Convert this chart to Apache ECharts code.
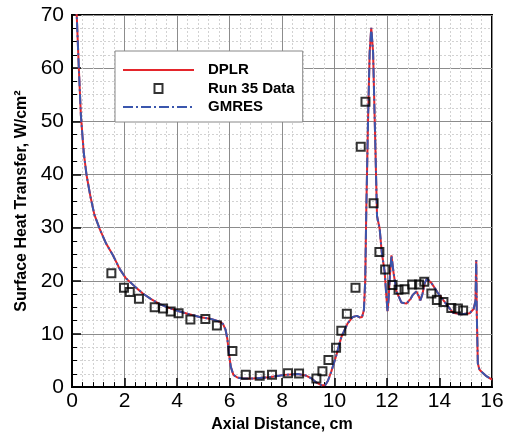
<!DOCTYPE html>
<html>
<head>
<meta charset="utf-8">
<script src="https://cdn.jsdelivr.net/npm/echarts@6/dist/echarts.min.js"></script>
<style>html,body{margin:0;padding:0;background:#fff;}#c{width:513px;height:438px;}</style>
</head>
<body>
<div id="c"></div>
<script>
// Computed solution (DPLR / GMRES overlap)
var curveX = [0.12,0.18,0.26,0.34,0.45,0.55,0.7,0.85,1.05,1.3,1.56,1.82,2.05,2.4,2.7,3.0,3.34,3.7,4.04,4.4,4.86,5.3,5.63,5.75,5.85,5.92,5.98,6.05,6.15,6.3,6.5,6.9,7.5,8.1,8.6,8.9,9.1,9.3,9.5,9.65,9.75,9.88,10.07,10.26,10.5,10.7,10.85,10.96,11.05,11.12,11.17,11.21,11.28,11.34,11.40,11.47,11.53,11.62,11.72,11.8,11.91,11.97,12.02,12.06,12.11,12.17,12.25,12.36,12.55,12.74,12.9,12.99,13.12,13.2,13.27,13.35,13.44,13.52,13.69,13.94,14.26,14.51,14.83,15.15,15.3,15.37,15.40,15.42,15.46,15.52,15.6,15.8,16.0];
var dplrY = [72,70,60,51,44,40,35.9,32.5,29.8,27,24.8,22.2,20.5,18.9,17.6,16.6,15.6,14.9,14.3,13.8,13.2,12.8,12.3,11.9,10.8,9,6.3,3.8,2.3,1.8,1.6,1.6,1.85,2.3,2.45,2.2,1.7,0.9,0.35,0.4,1.2,2.95,6.0,9.4,12.0,13.2,13.4,13.1,13.2,14.5,20,33,50.7,63,67.6,63,50.7,32.2,29.8,25.4,21.7,17.5,14.3,16.5,21,24.8,21.5,18.0,15.9,15.7,16.6,17.4,18.0,17.2,16.3,17.5,19.6,20.4,19.6,17.7,15.6,14.0,13.7,13.9,14.7,16.2,23.9,14,4.5,3.3,2.9,2.0,1.4];
var gmresY = [72,70,60,51,44,40,35.9,32.5,29.8,27,24.8,22.2,20.5,18.9,17.6,16.6,15.6,14.9,14.3,13.8,13.2,12.8,12.3,11.9,10.8,9,6.3,3.8,2.3,1.8,1.6,1.6,1.85,2.3,2.45,2.2,1.7,0.9,0.35,0.4,1.2,2.95,6.0,9.4,12.0,13.2,13.4,13.1,13.2,14.5,20,33,50.7,63,67.6,63,50.7,32.2,29.8,25.4,21.7,17.5,14.3,16.5,21,24.8,21.5,18.0,15.9,15.7,16.6,17.4,18.0,17.2,16.3,17.5,19.6,20.4,19.6,17.7,15.6,14.0,13.7,13.9,14.7,16.2,23.9,14,4.5,3.3,2.9,2.0,1.4];
// Run 35 measured data
var runX = [1.50,1.98,2.20,2.55,3.15,3.47,3.76,4.06,4.51,5.08,5.52,6.11,6.62,7.15,7.62,8.23,8.65,9.31,9.54,9.77,10.06,10.26,10.47,10.8,11.0,11.18,11.49,11.71,11.93,12.21,12.44,12.67,12.96,13.22,13.42,13.69,13.9,14.15,14.45,14.7,14.9];
var runY = [21.4,18.7,17.9,16.6,15.0,14.8,14.2,13.9,12.7,12.8,11.6,6.8,2.3,2.15,2.3,2.6,2.55,1.6,3.0,5.1,7.4,10.6,13.8,18.7,45.2,53.7,34.6,25.4,22.1,19.2,18.3,18.4,19.3,19.3,19.8,17.6,16.4,16.0,14.9,14.8,14.4];
var seriesNames = ['DPLR', 'Run 35 Data', 'GMRES'];
var xTicks = [0, 16, 2];
var yTicks = [0, 70, 10];

function zip(a, b) { return a.map(function (v, i) { return [v, b[i]]; }); }

var FONT = '"Liberation Sans", Arial, Helvetica, sans-serif';
var chart = echarts.init(document.getElementById('c'), null, {renderer: 'canvas'});

function axisCommon() {
  return {
    axisLine: {show: true, onZero: false, lineStyle: {color: '#000', width: 2}},
    axisTick: {show: true, inside: true, length: 9, lineStyle: {color: '#000', width: 1.5}},
    minorTick: {show: true, length: 5, lineStyle: {color: '#000', width: 1}},
    splitLine: {show: true, lineStyle: {color: '#8c8c8c', width: 1}},
    minorSplitLine: {show: true, lineStyle: {color: '#d2d2d2', width: 1, type: [2, 2]}},
    axisLabel: {color: '#000', fontSize: 21, fontFamily: FONT}
  };
}

var xAxis = Object.assign(axisCommon(), {
  type: 'value', min: xTicks[0], max: xTicks[1], interval: xTicks[2],
  name: 'Axial Distance, cm', nameLocation: 'middle', nameGap: 26,
  nameTextStyle: {color: '#000', fontSize: 16, fontWeight: 'bold', fontFamily: FONT}
});
xAxis.minorTick.splitNumber = 5;
xAxis.axisLabel.margin = 4;

var yAxis = Object.assign(axisCommon(), {
  type: 'value', min: yTicks[0], max: yTicks[1], interval: yTicks[2],
  name: 'Surface Heat Transfer, W/cm²', nameLocation: 'middle', nameGap: 38,
  nameTextStyle: {color: '#000', fontSize: 16, fontWeight: 'bold', fontFamily: FONT}
});
yAxis.minorTick.splitNumber = 4;
yAxis.axisLabel.margin = 8;

var hiddenMark = {color: 'rgba(0,0,0,0)', borderColor: 'rgba(0,0,0,0)', borderWidth: 0};

chart.setOption({
  animation: false,
  backgroundColor: '#fff',
  grid: {left: 72, right: 21, top: 15, bottom: 44, show: true, borderColor: '#000', borderWidth: 2, backgroundColor: '#fff'},
  xAxis: xAxis,
  yAxis: yAxis,
  legend: {
    orient: 'vertical', left: 115, top: 51,
    padding: [11, 8, 7, 7],
    backgroundColor: '#fff', borderColor: '#888', borderWidth: 1,
    itemWidth: 71, itemHeight: 9, itemGap: 2.5,
    symbolKeepAspect: true,
    textStyle: {color: '#000', fontSize: 15, fontWeight: 'bold', fontFamily: FONT, lineHeight: 16, padding: [0, 0, 0, 9]},
    data: [
      {name: seriesNames[0], itemStyle: hiddenMark},
      {name: seriesNames[1], icon: 'path://M0,0M71,9M31.5,0L39.5,0L39.5,9L31.5,9Z',
        itemStyle: {color: 'rgba(255,255,255,0)', borderColor: '#000', borderWidth: 2}},
      {name: seriesNames[2], itemStyle: hiddenMark}
    ]
  },
  series: [
    {
      name: seriesNames[0], type: 'line', data: zip(curveX, dplrY), showSymbol: false, symbol: 'none',
      clip: true, z: 3,
      lineStyle: {color: '#e4252b', width: 2}, itemStyle: {color: '#e4252b'}
    },
    {
      name: seriesNames[2], type: 'line', data: zip(curveX, gmresY), showSymbol: false, symbol: 'none',
      clip: true, z: 4,
      lineStyle: {color: '#3a56ad', width: 2, type: [10, 3, 2, 3]}, itemStyle: {color: '#3a56ad'}
    },
    {
      name: seriesNames[1], type: 'scatter', data: zip(runX, runY), symbol: 'rect', symbolSize: 8, z: 5,
      itemStyle: {color: 'rgba(255,255,255,0)', borderColor: '#000', borderWidth: 2}
    }
  ]
});
</script>
</body>
</html>
